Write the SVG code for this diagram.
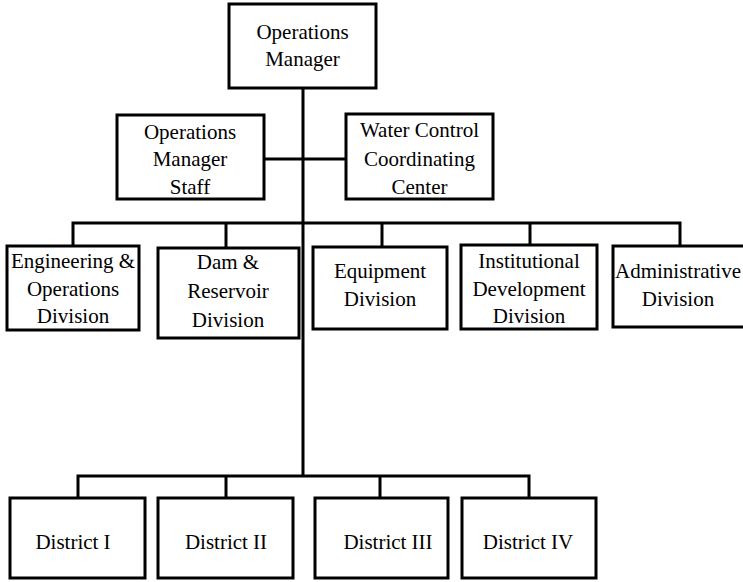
<svg xmlns="http://www.w3.org/2000/svg" width="743" height="582" viewBox="0 0 743 582">
<style>
.box{fill:#fff;stroke:#000;stroke-width:3}
.ln{fill:none;stroke:#000;stroke-width:3}
text{font-family:"Liberation Serif","Times New Roman",serif;font-size:21px;fill:#000;text-anchor:middle}
</style>
<rect width="743" height="582" fill="#fff"/>
<g id="connectors" class="ln">
<path d="M303,88 V476"/>
<path d="M264,159 H346"/>
<path d="M73,246 V223 H680 V246"/>
<path d="M226,223 V248"/>
<path d="M382,223 V247"/>
<path d="M530,223 V245"/>
<path d="M78,498 V476 H529 V498"/>
<path d="M226,476 V498"/>
<path d="M380,476 V498"/>
</g>
<g id="ops-manager"><rect class="box" x="229" y="4" width="147" height="84"/><text x="302.5" y="39">Operations</text><text x="302.5" y="66">Manager</text></g>
<g id="ops-staff"><rect class="box" x="117" y="115" width="147" height="84"/><text x="190" y="139">Operations</text><text x="190" y="166">Manager</text><text x="190" y="194">Staff</text></g>
<g id="water-control"><rect class="box" x="346" y="114" width="147" height="85"/><text x="419.5" y="137">Water Control</text><text x="419.5" y="166">Coordinating</text><text x="419.5" y="194">Center</text></g>
<g id="engineering"><rect class="box" x="7" y="246" width="132" height="84"/><text x="73" y="268">Engineering &amp;</text><text x="73" y="296">Operations</text><text x="73" y="323">Division</text></g>
<g id="dam"><rect class="box" x="158" y="248" width="141" height="90"/><text x="228" y="269">Dam &amp;</text><text x="228" y="298">Reservoir</text><text x="228" y="327">Division</text></g>
<g id="equipment"><rect class="box" x="313" y="247" width="134" height="82"/><text x="380" y="278">Equipment</text><text x="380" y="306">Division</text></g>
<g id="institutional"><rect class="box" x="461" y="245" width="136" height="84"/><text x="529" y="268">Institutional</text><text x="529" y="296">Development</text><text x="529" y="323">Division</text></g>
<g id="administrative"><rect class="box" x="613" y="246" width="140" height="81"/><text x="678" y="278">Administrative</text><text x="678" y="306">Division</text></g>
<g id="district-1"><rect class="box" x="10" y="498" width="135" height="80"/><text x="73" y="549">District I</text></g>
<g id="district-2"><rect class="box" x="158" y="498" width="135" height="80"/><text x="226" y="549">District II</text></g>
<g id="district-3"><rect class="box" x="315" y="498" width="133" height="80"/><text x="388" y="549">District III</text></g>
<g id="district-4"><rect class="box" x="462" y="498" width="134" height="80"/><text x="528" y="549">District IV</text></g>
</svg>
